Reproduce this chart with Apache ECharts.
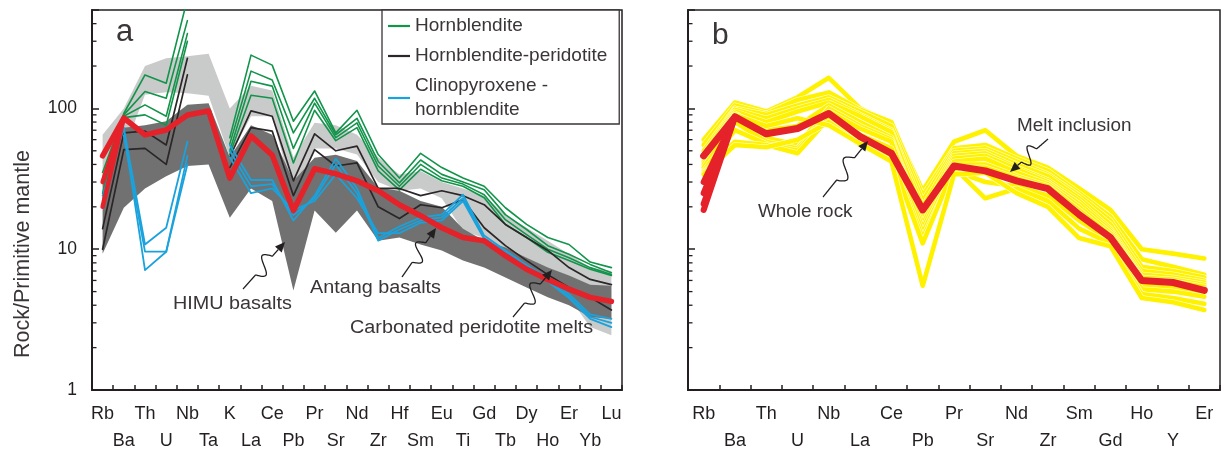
<!DOCTYPE html>
<html><head><meta charset="utf-8">
<script src="https://cdn.jsdelivr.net/npm/echarts@6/dist/echarts.min.js"></script>
<style>html,body{margin:0;padding:0;background:#fff}#c{width:1224px;height:455px}</style>
</head><body><div id="c"></div>
<script>
// ---------- categories ----------
const elementsA = ['Rb','Ba','Th','U','Nb','Ta','K','La','Ce','Pb','Pr','Sr','Nd','Zr','Hf','Sm','Eu','Ti','Gd','Tb','Dy','Ho','Er','Yb','Lu'];
const elementsB = ['Rb','Ba','Th','U','Nb','La','Ce','Pb','Pr','Sr','Nd','Zr','Sm','Gd','Ho','Y','Er'];
const yTickLabels = [1, 10, 100];
const minorTickValues = [2,3,4,5,6,7,8,9,20,30,40,50,60,70,80,90,200,300,400];

// ---------- panel a ----------
const hornblendite1 = [35, 92, 173, 151, 600, null, 62, 239, 203, 81, 133, 67, 97, 47, 32, 48, 38, 32, 28, 19.7, 15, 12.1, 10.8, 8.1, 7.4];
const hornblendite2 = [30, 90, 132, 118, 420, null, 56, 184, 159, 67, 118, 65, 85, 42, 29.6, 43, 34, 30, 26.4, 17.6, 13.8, 10.6, 9.2, 7.8, 6.8];
const hornblendite3 = [25, 88, 106, 88, 340, null, 50, 156, 144, 52, 109, 62, 79, 39, 28, 40, 32, 29, 24.4, 16.2, 12.7, 10, 8.7, 7.4, 6.6];
const hornblendite4 = [22, 86, 90, 76, 300, null, 47, 124, 118, 41, 97, 59, 73, 36, 26.4, 37, 30.6, 28, 23.2, 15, 12.1, 9.5, 8.3, 7.2, 6.5];
const hblPeridotite1 = [14, 67, 69, 55, 227, null, 45, 96, 88, 30.6, 66, 50, 54, 27, 27, 24, 26, 24, 20.7, 15, 12.1, 9.8, 7.4, 6.1, 5.6];
const hblPeridotite2 = [10, 51, 52, 40, 173, null, 38, 73, 69, 24, 51, 39, 41, 20, 16.5, 20.7, 19.7, 22.5, 14.2, 10.6, 8.3, 6.6, 5.35, 4.55, 3.7];
const cpxHbl1 = [24, 73, 10.8, 14.2, 58, null, 55, 31, 31, 16, 24, 44, 27, 12, 14.5, 16.8, 17.6, 24.4, 12.5, 9.8, 7.7, 6.3, 4.8, 3.45, 3.2];
const cpxHbl2 = [null, 64, 9.6, 9.6, 46, null, 45, 25, 27, 19, 22, 34, 23, 13, 13, 15.4, 16, 22, 11.8, 9.3, 7.3, 5.9, 4.5, 3.2, 2.8];
const cpxHbl3 = [null, 70, 7.1, 9.6, 40, null, 50, 28, 29, 17.5, 23, 40, 25, 11.5, 13.8, 16, 16.8, 23, 12, 9.5, 7.5, 6.1, 4.6, 3.3, 3.0];
const antangBasalt = [46, 85.5, 64.8, 70.3, 89.8, 95.9, 32, 63.8, 46.6, 18.8, 37.3, 34.3, 30.6, 26, 20.7, 17.3, 14.2, 12.1, 11.5, 9.0, 7.2, 6.1, 5.2, 4.55, 4.26];
const antangRbAlt = [30, 20];
const carbMeltUpper = [65, 100, 200, 227, 235, 244, 100, 145, 134, 45, 79, 76, 65, 45, 34, 36, 30, 27, 24, 17.6, 14.2, 11.5, 9.2, 7.4, 7];
const carbMeltLower = [35, 50, 125, 130, 128, 123, 45, 88, 88, 24, 52, 52, 47, 30, 26, 27, 23, 13.5, 12, 9.8, 7.4, 6, 4.55, 2.8, 2.45];
const himuUpper = [34, 73, 76, 81, 106, 109, 45, 76, 65, 30.6, 44.6, 46.8, 42.4, 27.3, 26, 22, 20, 14, 11.5, 10.3, 8.7, 7.4, 6.5, 5.6, 5.5];
const himuLower = [9.3, 19.7, 27, 33, 39, 40, 16.7, 27, 22, 5.1, 18.8, 13.1, 18.8, 11.5, 12.1, 10.8, 9.8, 8.3, 7.4, 6.3, 5.35, 4.55, 4.0, 3.3, 3.2];

// ---------- panel b ----------
const wholeRock = [46, 87, 66, 72, 92, 63, 48, 19, 39, 36, 30.6, 26.9, 17.6, 12.1, 6.0, 5.8, 5.1];
const wholeRockRbAlt = [30, 25, 21, 19];
const melt1  = [60, 110, 95, 120, 165, 100, 78, 26, 58, 70, 46, 38, 27, 19, 10, 9.3, 8.6];
const melt2  = [55, 105, 92, 115, 130, 98, 80, 24, 52, 55, 44, 36, 25, 17, 8.5, 7.5, 6.6];
const melt3  = [50, 100, 90, 105, 120, 95, 75, 22, 50, 52, 42, 34, 24, 16, 7.5, 7, 6.3];
const melt4  = [47, 98, 85, 100, 115, 90, 70, 20, 48, 50, 40, 33, 23, 15, 7, 6.6, 6.0];
const melt5  = [44, 95, 80, 95, 110, 88, 68, 18, 46, 48, 38, 31, 22, 14, 6.6, 6.3, 5.8];
const melt6  = [42, 92, 70, 75, 105, 80, 62, 16, 44, 46, 37, 30, 21, 13.5, 6.3, 6.1, 5.6];
const melt7  = [40, 88, 62, 55, 100, 75, 60, 15, 42, 44, 35, 29, 20, 13, 6.1, 5.9, 5.4];
const melt8  = [38, 80, 58, 52, 95, 72, 58, 14, 40, 40, 33, 28, 19, 12.5, 5.8, 5.6, 5.2];
const melt9  = [36, 70, 56, 50, 90, 65, 52, 13, 38, 38, 32, 27, 18, 12, 5.5, 5.3, 4.9];
const melt10 = [35, 58, 55, 48, 85, 58, 46, 12, 36, 30, 28, 24, 16, 11.5, 5.2, 5.0, 4.6];
const melt11 = [34, 55, 53, 60, 80, 55, 44, 11, 38, 23, 27, 22, 14, 11, 4.8, 4.5, 4.1];
const melt12 = [45, 90, 75, 85, 76, 56, 42, 5.5, 34, 35, 25, 20, 12, 10.5, 4.5, 4.2, 3.7];

// ---------- styling ----------
const FONT = "'Liberation Sans', Arial, sans-serif";
const AX = '#231f20';
const TXT = '#3a3536';
const GREEN = '#12944a', BLACK = '#2b2627', BLUE = '#1aa2dc', RED = '#e5222a', YELLOW = '#fff200';
const LIGHT = '#c9caca', DARK = '#717171';

function xAxisDef(gi, data) {
  return {type:'category', gridIndex:gi, data, boundaryGap:true,
    axisLine:{show:true, lineStyle:{color:AX, width:2}},
    axisTick:{show:true, inside:true, length:5, lineStyle:{color:AX, width:1.5}},
    axisLabel:{interval:0, color:AX, fontSize:18, fontFamily:FONT, lineHeight:27, margin:11,
      formatter:(v, i) => (i % 2 ? '\n' + v : v)},
    splitLine:{show:false}};
}
function yAxisDef(gi, showLabels) {
  return {type:'log', logBase:10, gridIndex:gi, min:1, max:500,
    axisLine:{show:true, onZero:false, lineStyle:{color:AX, width:2}},
    axisTick:{show:true, inside:true, length:7, lineStyle:{color:AX, width:1.5}},
    axisLabel:{show:showLabels, margin:15, fontSize:17.5, fontFamily:FONT, color:AX,
      formatter:v => (yTickLabels.indexOf(Math.round(v)) >= 0 ? String(Math.round(v)) : '')},
    splitLine:{show:false}, minorTick:{show:false}};
}
function minorTicks(ai) {
  return {type:'custom', xAxisIndex:ai, yAxisIndex:ai, silent:true, z:20, clip:false,
    data:minorTickValues.map(v => [0, v]),
    renderItem:(params, api) => {
      const cs = params.coordSys;
      const p = api.coord([0, api.value(1)]);
      return {type:'line', shape:{x1:cs.x, y1:p[1], x2:cs.x + 4.5, y2:p[1]},
        style:{stroke:AX, lineWidth:1.3}};
    }};
}
function band(ai, upper, lower, color, z) {
  return {type:'custom', xAxisIndex:ai, yAxisIndex:ai, silent:true, z, data:[[0, upper[0]]],
    renderItem:(params, api) => {
      const pts = [];
      upper.forEach((v, i) => pts.push(api.coord([i, v])));
      for (let i = lower.length - 1; i >= 0; i--) pts.push(api.coord([i, lower[i]]));
      return {type:'polygon', shape:{points:pts}, style:{fill:color}};
    }};
}
function line(name, ai, data, color, width, z) {
  return {type:'line', name, xAxisIndex:ai, yAxisIndex:ai, data, symbol:'none', z, silent:true,
    connectNulls:false, clip:true,
    lineStyle:{color, width, join:'round', cap:'round'}, itemStyle:{color}};
}

const series = [];
// panel a
series.push(band(0, carbMeltUpper, carbMeltLower, LIGHT, 1));
series.push(band(0, himuUpper, himuLower, DARK, 2));
[hornblendite1, hornblendite2, hornblendite3, hornblendite4].forEach(d => series.push(line('Hornblendite', 0, d, GREEN, 1.6, 3)));
[hblPeridotite1, hblPeridotite2].forEach(d => series.push(line('Hornblendite-peridotite', 0, d, BLACK, 1.7, 4)));
[cpxHbl1, cpxHbl2, cpxHbl3].forEach(d => series.push(line('Clinopyroxene -\nhornblendite', 0, d, BLUE, 1.8, 5)));
antangRbAlt.forEach(rb => series.push(line('Antang', 0, [rb, antangBasalt[1]], RED, 4.5, 6)));
series.push(line('Antang', 0, antangBasalt, RED, 5.5, 7));
series.push(minorTicks(0));
// panel b
[melt1, melt2, melt3, melt4, melt5, melt6, melt7, melt8, melt9, melt10, melt11, melt12].forEach(d => {
  series.push(line('melt-edge', 1, d, '#ffffff', 5.6, 3));
  series.push(line('Melt inclusion', 1, d, YELLOW, 4.6, 3));
});
wholeRockRbAlt.forEach(rb => series.push(line('Whole rock', 1, [rb, wholeRock[1]], RED, 6, 6)));
series.push(line('Whole rock', 1, wholeRock, RED, 7, 7));
series.push(minorTicks(1));

// ---------- annotations ----------
function squiggleArrow(x1, y1, x2, y2) {
  const dx = x2 - x1, dy = y2 - y1, L = Math.hypot(dx, dy), ux = dx / L, uy = dy / L, px = -uy, py = ux;
  const head = 10, pts = [];
  const tEnd = 1 - head / L;
  for (let k = 0; k <= 60; k++) {
    const t = tEnd * k / 60;
    let o = 0;
    if (t > 0.3 && t < 0.7) o = 8 * Math.sin((t - 0.3) / 0.4 * 2 * Math.PI);
    pts.push([x1 + dx * t + px * o, y1 + dy * t + py * o]);
  }
  return [
    {type:'polyline', shape:{points:pts, smooth:0.3}, style:{stroke:AX, lineWidth:1.3, fill:null}, z:100},
    {type:'polygon', shape:{points:[[x2, y2], [x2 - ux * head + px * 4.5, y2 - uy * head + py * 4.5], [x2 - ux * head - px * 4.5, y2 - uy * head - py * 4.5]]}, style:{fill:AX}, z:100}
  ];
}
function label(text, x, y, size, sx) {
  return {type:'text', x, y, z:100, scaleX:sx || 1,
    style:{text, font:size + 'px ' + FONT, fill:TXT, align:'left', verticalAlign:'middle'}};
}
const graphics = [
  label('a', 116, 32, 31), label('b', 712, 36, 30),
  label('HIMU basalts', 173, 304, 18, 1.1), label('Antang basalts', 310, 288, 18, 1.1),
  label('Carbonated peridotite melts', 350, 328, 18, 1.1),
  label('Whole rock', 758, 212, 18, 1.05), label('Melt inclusion', 1017, 126, 18, 1.05),
  {type:'text', x:23, y:254, rotation:Math.PI / 2, z:100,
    style:{text:'Rock/Primitive mantle', font:'21.5px ' + FONT, fill:TXT, align:'center', verticalAlign:'middle'}},
  ...squiggleArrow(243, 289, 285, 242),
  ...squiggleArrow(402, 277, 436, 228),
  ...squiggleArrow(513, 317, 552, 270),
  ...squiggleArrow(823, 197, 868, 141),
  ...squiggleArrow(1048, 139, 1010, 172)
];

const chart = echarts.init(document.getElementById('c'), null, {renderer:'canvas'});
chart.setOption({
  animation:false,
  backgroundColor:'#fff',
  grid:[
    {left:92, top:10, width:530, height:383, show:true, borderColor:AX, borderWidth:1.5, backgroundColor:'transparent'},
    {left:688, top:10, width:532, height:383, show:true, borderColor:AX, borderWidth:1.5, backgroundColor:'transparent'}
  ],
  xAxis:[xAxisDef(0, elementsA), xAxisDef(1, elementsB)],
  yAxis:[yAxisDef(0, true), yAxisDef(1, false)],
  legend:{data:['Hornblendite', 'Hornblendite-peridotite', 'Clinopyroxene -\nhornblendite'],
    left:382, top:10, orient:'vertical', icon:'rect', itemWidth:22, itemHeight:2.2, itemGap:6,
    selectedMode:false, backgroundColor:'#fff', borderColor:'#3a3536', borderWidth:1.3,
    padding:[4, 12, 2, 6], z:50,
    textStyle:{fontSize:19, lineHeight:24, color:TXT, fontFamily:FONT}},
  series,
  graphic:{elements:graphics}
});
</script></body></html>
